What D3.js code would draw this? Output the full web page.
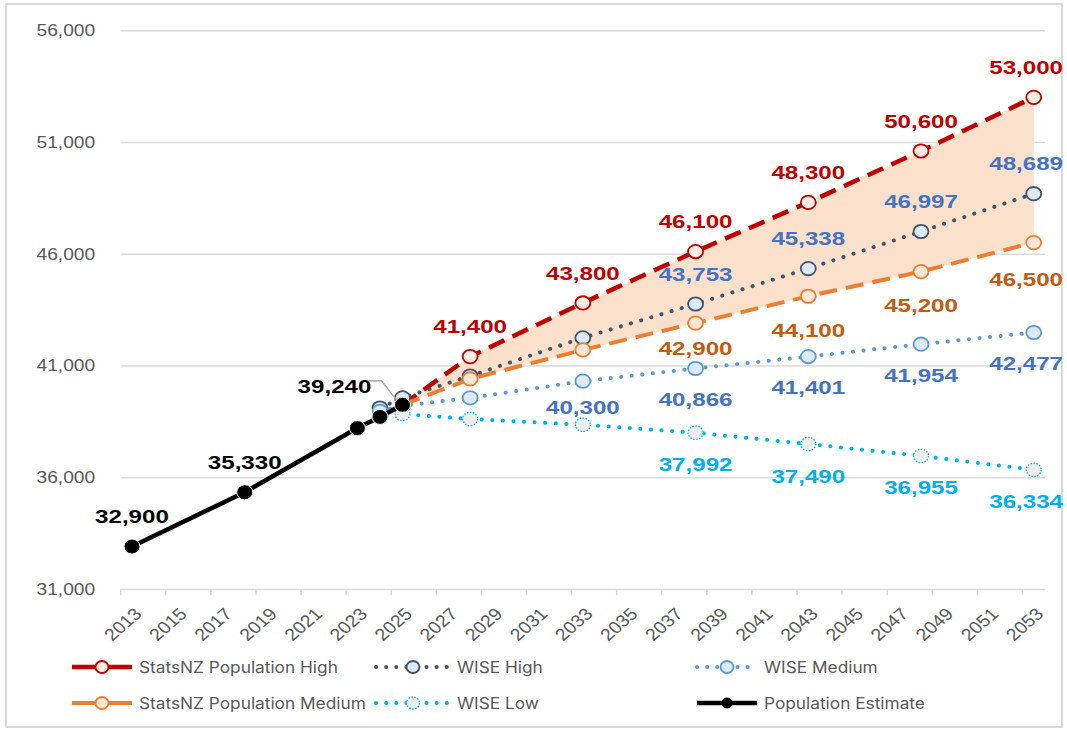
<!DOCTYPE html>
<html>
<head>
<meta charset="utf-8">
<script src="https://cdn.jsdelivr.net/npm/d3@7"></script>
<style>
  body { margin: 0; background: #fff; }
  svg { display: block; }
</style>
</head>
<body>
<svg id="chart" width="1067" height="729"></svg>
<script>
// categories and tick labels
const years = d3.range(2013, 2054);
const yTicks = [31000, 36000, 41000, 46000, 51000, 56000];

// population estimate
const popYears = [2013, 2018, 2023, 2024, 2025];
const popValues = [32900, 35330, 38200, 38700, 39240];

// StatsNZ projections
const projYears = [2025, 2028, 2033, 2038, 2043, 2048, 2053];
const statsHigh = [39240, 41400, 43800, 46100, 48300, 50600, 53000];
const statsMedium = [39240, 40400, 41700, 42900, 44100, 45200, 46500];

// WISE projections
const wiseYears = [2024, 2025, 2028, 2033, 2038, 2043, 2048, 2053];
const wiseHigh = [39100, 39550, 40530, 42240, 43753, 45338, 46997, 48689];
const wiseMedium = [38950, 39200, 39550, 40300, 40866, 41401, 41954, 42477];
const wiseLowYears = [2023, 2024, 2025, 2028, 2033, 2038, 2043, 2048, 2053];
const wiseLow = [38200, 38700, 38830, 38610, 38350, 37992, 37490, 36955, 36334];

const svg = d3.select('#chart');
const W = 1067, H = 729;
const plotL = 120.7, plotR = 1045, plotB = 589, plotT = 30.3;
const fontA = '"Liberation Sans", Arial, sans-serif';
const SX = 1.2;   // the reference text is a bit wider than Arial

svg.append('rect').attr('width', W).attr('height', H).attr('fill', '#fff');
svg.append('rect')
    .attr('x', 6).attr('y', 4).attr('width', 1056).attr('height', 723)
    .attr('fill', 'none').attr('stroke', '#d9d9d9').attr('stroke-width', 2);

var x = d3.scaleBand().domain(years).range([plotL, plotR]);
const cx = yr => x(yr) + x.bandwidth() / 2;
var y = d3.scaleLinear().domain([31000, 56000]).range([plotB, plotT]);

// y axis + gridlines
var gy = svg.append('g')
    .attr('transform', 'translate(' + plotL + ',0)')
    .call(d3.axisLeft(y).tickValues(yTicks).tickSize(-(plotR - plotL)).tickFormat(d3.format(',')));
gy.select('.domain').remove();
gy.selectAll('.tick line').attr('stroke', '#d9d9d9').attr('stroke-width', 1.5);
gy.selectAll('.tick text')
    .attr('x', null).attr('dy', null)
    .attr('transform', 'translate(-25.5,0) scale(' + SX + ',1)')
    .attr('text-anchor', 'end').attr('dominant-baseline', 'central')
    .attr('fill', '#595959')
    .style('font', '16px ' + fontA);

// x axis: ticks sit between categories, every second one
var gx = svg.append('g')
    .attr('transform', 'translate(0,' + plotB + ')')
    .call(d3.axisBottom(x).tickValues(years.filter((d, i) => i % 2 === 0)).tickSize(6).tickSizeOuter(0));
gx.select('.domain').remove();
gx.selectAll('.tick line')
    .attr('x1', -x.bandwidth() / 2).attr('x2', -x.bandwidth() / 2)
    .attr('stroke', '#d9d9d9').attr('stroke-width', 1.5);
gx.selectAll('.tick text')
    .attr('y', null).attr('dy', null)
    .attr('transform', 'translate(11,26) scale(1.15,1) rotate(-45)')
    .attr('text-anchor', 'end')
    .attr('fill', '#595959')
    .style('font', '17px ' + fontA);

// shaded band between StatsNZ high and medium
var band = projYears.map((d, i) => ({ yr: d, lo: statsMedium[i], hi: statsHigh[i] }));
svg.append('path')
    .datum(band)
    .attr('fill', '#fbe0cc')
    .attr('d', d3.area().x(d => cx(d.yr)).y0(d => y(d.lo)).y1(d => y(d.hi)));

const series = [
    { name: 'StatsNZ Population High', yrs: projYears, vals: statsHigh,
      stroke: '#C00000', width: 4.5, dash: '17 9', cap: 'butt',
      mFill: '#fdeee4', mStroke: '#C00000', mDash: null, mW: 1.8,
      lab: '#C00000', labFrom: 2028, dy: -30, dyAt: {} },
    { name: 'WISE High', yrs: wiseYears, vals: wiseHigh,
      stroke: '#44546A', width: 4, dash: '0.1 10.5', cap: 'round',
      mFill: '#dce9f6', mStroke: '#44546A', mDash: null, mW: 1.8,
      lab: '#4472C4', labFrom: 2038, dy: -30, dyAt: {} },
    { name: 'WISE Medium', yrs: wiseYears, vals: wiseMedium,
      stroke: '#5B9BD5', width: 4, dash: '0.1 10.5', cap: 'round',
      mFill: '#dce9f6', mStroke: '#5B9BD5', mDash: null, mW: 1.8,
      lab: '#4472C4', labFrom: 2033, dy: 31, dyAt: { 2033: 26 } },
    { name: 'StatsNZ Population Medium', yrs: projYears, vals: statsMedium,
      stroke: '#ED7D31', width: 4, dash: '18 9', cap: 'butt',
      mFill: '#fbe5d6', mStroke: '#ED7D31', mDash: null, mW: 1.8,
      lab: '#C55A11', labFrom: 2038, dy: 34, dyAt: { 2038: 25, 2053: 37 } },
    { name: 'WISE Low', yrs: wiseLowYears, vals: wiseLow,
      stroke: '#00B0F0', width: 4, dash: '0.1 10.5', cap: 'round',
      mFill: '#ededed', mStroke: '#00B0F0', mDash: '1.5 1.5', mW: 1.3,
      lab: '#00B0F0', labFrom: 2038, dy: 32, dyAt: {} },
    { name: 'Population Estimate', yrs: popYears, vals: popValues,
      stroke: '#000', width: 4.5, dash: null, cap: 'butt',
      mFill: '#000', mStroke: '#fff', mDash: null, mW: 1,
      lab: '#000', labFrom: 9999, dy: -30, dyAt: {} }
];

var line = d3.line().x(d => cx(d[0])).y(d => y(d[1]));

series.forEach(s => {
    var pts = s.yrs.map((d, i) => [d, s.vals[i]]);
    var g = svg.append('g');
    g.append('path')
        .datum(pts)
        .attr('d', line)
        .attr('fill', 'none')
        .attr('stroke', s.stroke)
        .attr('stroke-width', s.width)
        .attr('stroke-dasharray', s.dash)
        .attr('stroke-linecap', s.cap);
    g.selectAll('ellipse')
        .data(pts)
        .join('ellipse')
        .attr('cx', d => cx(d[0]))
        .attr('cy', d => y(d[1]))
        .attr('rx', s.name === 'Population Estimate' ? 8 : 7.5)
        .attr('ry', s.name === 'Population Estimate' ? 7.5 : 6.7)
        .attr('fill', s.mFill)
        .attr('stroke', s.mStroke)
        .attr('stroke-width', s.mW)
        .attr('stroke-dasharray', s.mDash);
});

// data labels
var labels = [];
series.forEach(s => {
    s.yrs.forEach((d, i) => {
        if (d >= s.labFrom) {
            var dy = s.dyAt[d] !== undefined ? s.dyAt[d] : s.dy;
            labels.push({ yr: d, v: s.vals[i], c: s.lab, dy: dy });
        }
    });
});
// population estimate labels
labels.push({ yr: 2013, v: popValues[0], c: '#000', dy: -30 });
labels.push({ yr: 2018, v: popValues[1], c: '#000', dy: -30 });

var LSX = 1.27;
var lab = svg.append('g')
    .style('font', 'bold 19px ' + fontA)
    .attr('text-anchor', 'middle');
lab.selectAll('text')
    .data(labels)
    .join('text')
    .attr('fill', d => d.c)
    .attr('dominant-baseline', 'central')
    .text(d => d3.format(',')(d.v))
    .attr('transform', function (d) {
        var w = this.getComputedTextLength() * LSX;
        var px = Math.min(cx(d.yr), 1063 - w / 2);
        return 'translate(' + px + ',' + (y(d.v) + d.dy) + ') scale(' + LSX + ',1)';
    });

// 2025 estimate label with its leader line
var lx = cx(2025), ly = y(popValues[4]);
svg.append('path')
    .attr('d', 'M' + (lx - 34) + ',' + (ly - 24) + 'H' + (lx - 21) + 'L' + (lx - 6) + ',' + (ly - 5))
    .attr('fill', 'none').attr('stroke', '#a6a6a6').attr('stroke-width', 1.5);
lab.append('text')
    .attr('fill', '#000')
    .attr('dominant-baseline', 'central')
    .attr('transform', 'translate(' + (lx - 68) + ',' + (ly - 18) + ') scale(' + LSX + ',1)')
    .text(d3.format(',')(popValues[4]));

// legend
const legend = [
    { s: series[0], x: 72, y: 667, w: 60 },
    { s: series[1], x: 376, y: 667, w: 74 },
    { s: series[2], x: 697, y: 667, w: 60 },
    { s: series[3], x: 72, y: 703, w: 60 },
    { s: series[4], x: 376, y: 703, w: 74 },
    { s: series[5], x: 697, y: 703, w: 60 }
];
var lg = svg.append('g');
legend.forEach(l => {
    var s = l.s;
    var dotted = s.cap === 'round';
    lg.append('line')
        .attr('x1', l.x).attr('x2', l.x + l.w)
        .attr('y1', l.y).attr('y2', l.y)
        .attr('stroke', s.stroke)
        .attr('stroke-width', s.width)
        .attr('stroke-dasharray', dotted ? '0.1 10' : null)
        .attr('stroke-linecap', dotted ? 'round' : 'butt');
    lg.append('ellipse')
        .attr('cx', l.x + l.w / 2).attr('cy', l.y)
        .attr('rx', s.name === 'Population Estimate' ? 5 : 6.5)
        .attr('ry', s.name === 'Population Estimate' ? 5 : 6)
        .attr('fill', s.name === 'Population Estimate' ? '#000' : s.mFill)
        .attr('stroke', s.name === 'Population Estimate' ? '#000' : s.mStroke)
        .attr('stroke-width', s.mW)
        .attr('stroke-dasharray', s.mDash);
    lg.append('text')
        .attr('transform', 'translate(' + (l.x + l.w + 7) + ',' + l.y + ') scale(1.08,1)')
        .attr('dominant-baseline', 'central')
        .attr('fill', '#595959')
        .style('font', '16px Inter, "Noto Sans", sans-serif')
        .text(s.name);
});
</script>
</body>
</html>
